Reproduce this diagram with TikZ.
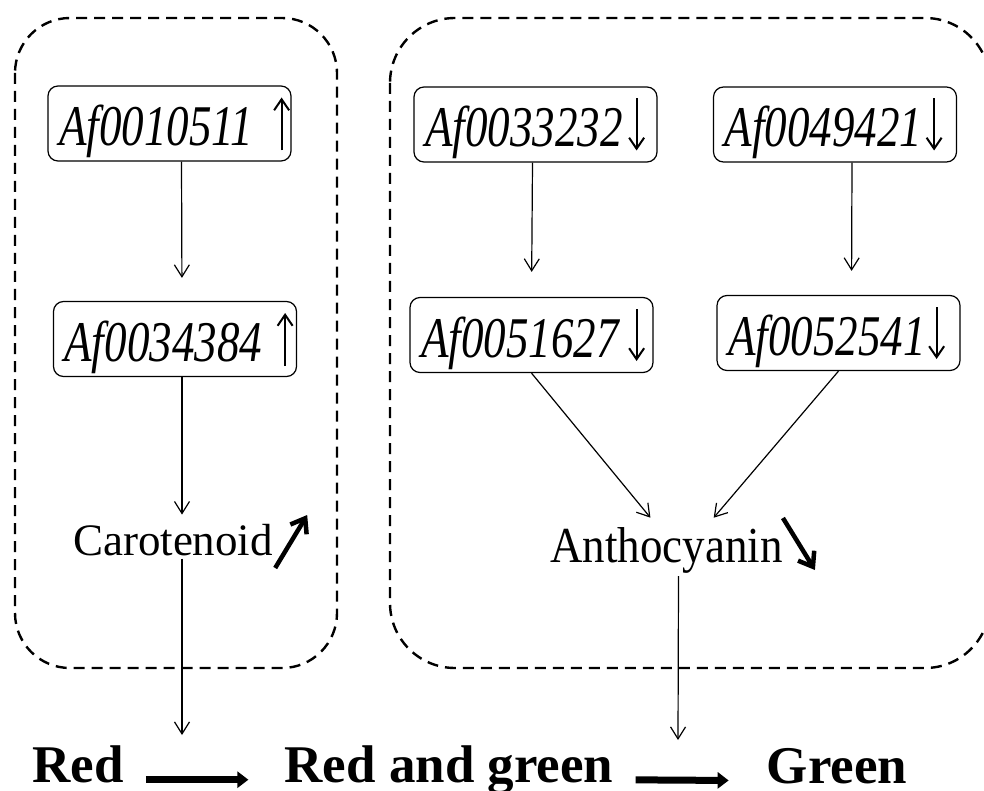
\documentclass[tikz,border=0pt]{standalone}
\usepackage{graphicx}
\usepackage{fontspec}
\setmainfont{Liberation Serif}
\usetikzlibrary{arrows.meta}
\newcommand{\tall}[2][1.28]{\scalebox{1}[#1]{#2}}
\newcommand{\genename}[1]{\raisebox{-8pt}[\height][\depth]{\tall{#1}}}

\begin{document}
\begin{tikzpicture}[x=1pt,y=-1pt,
    gene/.style={draw,rounded corners=10pt,line width=1.2pt,text width=221pt,align=left,minimum height=75pt,inner xsep=11pt,font=\fontsize{45}{50}\selectfont\itshape},
    pigment/.style={inner sep=3pt,anchor=base,font=\fontsize{45}{50}\selectfont},
    colour/.style={inner sep=0pt,anchor=base,font=\fontsize{53}{60}\selectfont\bfseries},
    dashbox/.style={line width=2.4pt,dash pattern=on 11pt off 7pt},
    link/.style={line width=1.2pt,-{Straight Barb[length=12pt,width=15pt]}},
    level/.style={line width=2pt,-{Straight Barb[length=11pt,width=15pt]}},
    trend/.style={line width=4.5pt,-{Straight Barb[length=13pt,width=19pt]}},
    colourshift/.style={line width=7pt,-{Triangle[length=11pt,width=16pt]}}]
    \useasboundingbox (0,0) rectangle (984,791);
    % dashed groups
    \draw[dashbox,rounded corners=55pt] (15,18) rectangle (337,668);
    \draw[dashbox,rounded corners=65pt] (390,18) rectangle (990,668);
    % genes
    \node[gene] (g1) at (169.5,123.5) {\genename{Af0010511}};
    \node[gene] (g2) at (175,339) {\genename{Af0034384}};
    \node[gene] (g3) at (535.5,124.5) {\genename{Af0033232}};
    \node[gene] (g4) at (835,124.5) {\genename{Af0049421}};
    \node[gene] (g5) at (531.5,335) {\genename{Af0051627}};
    \node[gene] (g6) at (838.5,333) {\genename{Af0052541}};
    \foreach \g/\off in {g1/10,g2/12} {
      \draw[level] ([xshift=-\off pt]\g.east) ++(0,27) -- ++(0,-53);
    }
    \foreach \g/\off in {g3/21,g4/23,g5/17,g6/24} {
      \draw[level] ([xshift=-\off pt]\g.east) ++(0,-26) -- ++(0,52);
    }
    \node[pigment] (car) at (173,555) {Carotenoid};
    \node[pigment] (anth) at (666.5,562) {\tall[1.12]{Anthocyanin}};
    % colours
    \node[colour] (red) at (78,782) {Red};
    \node[colour] (rg) at (449,782) {Red and green};
    \node[colour] (green) at (837,783) {Green};
    \coordinate (c1) at (182,735);
    \coordinate (c2) at (678,740);
    % links
    \draw[link,shorten >=23pt] ([xshift=12pt]g1.south) -- ([xshift=7pt]g2.north);
    \draw[link,shorten >=6pt] ([xshift=7pt]g2.south) -- ([xshift=9pt]car.north);
    \draw[link] ([xshift=9pt]car.south) -- (c1);
    \draw[link,shorten >=25pt] ([xshift=-3pt]g3.south) -- (g5.north);
    \draw[link,shorten >=24pt] ([xshift=17pt]g4.south) -- ([xshift=13pt]g6.north);
    \draw[link,shorten >=8pt] (g5.south) -- ([xshift=-11pt]anth.north);
    \draw[link,shorten >=8pt] (g6.south) -- ([xshift=42pt]anth.north);
    \draw[link] ([xshift=12pt]anth.south) -- (c2);
    % trends
    \draw[trend] (car.base east) ++(-1,13) -- ++(32,-53);
    \draw[trend] (anth.base east) ++(-3,-44) -- ++(32,52);
    % colour change
    \draw[colourshift,shorten <=22pt,shorten >=36pt] (red.mid east) -- (rg.mid west);
    \draw[colourshift,shorten <=22pt,shorten >=38pt] (rg.mid east) -- (green.mid west);
\end{tikzpicture}
\end{document}
